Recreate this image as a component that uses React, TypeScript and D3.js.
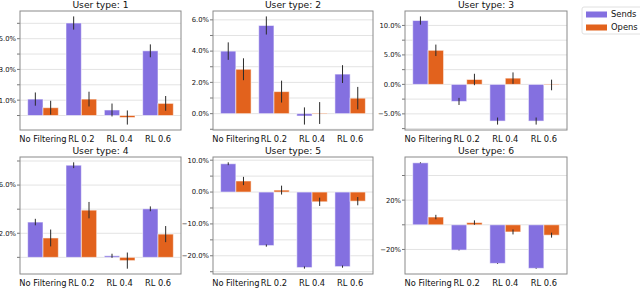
import React from 'react';
import * as d3 from 'd3';

// categories on the x axis of every panel
const categories = ['No Filtering', 'RL 0.2', 'RL 0.4', 'RL 0.6'];
const seriesNames = ['Sends', 'Opens'];
const userTypes = [1, 2, 3, 4, 5, 6];

// values in percent
const sends1 = [1.07, 6.02, 0.36, 4.21];
const sendsErr1 = [0.43, 0.43, 0.42, 0.42];
const opens1 = [0.51, 1.07, -0.13, 0.79];
const opensErr1 = [0.45, 0.48, 0.46, 0.48];

const sends2 = [4.0, 5.64, -0.15, 2.53];
const sendsErr2 = [0.56, 0.58, 0.55, 0.57];
const opens2 = [2.84, 1.41, 0.04, 0.99];
const opensErr2 = [0.7, 0.7, 0.7, 0.72];

const sends3 = [10.83, -2.89, -6.22, -6.22];
const sendsErr3 = [0.7, 0.6, 0.6, 0.6];
const opens3 = [5.78, 0.83, 1.06, -0.1];
const opensErr3 = [0.97, 0.97, 0.97, 0.9];

const sends4 = [2.93, 7.65, 0.13, 4.03];
const sendsErr4 = [0.27, 0.24, 0.17, 0.2];
const opens4 = [1.61, 3.92, -0.27, 1.93];
const opensErr4 = [0.7, 0.68, 0.67, 0.67];

const sends5 = [8.88, -16.8, -23.7, -23.4];
const sendsErr5 = [0.45, 0.35, 0.35, 0.35];
const opens5 = [3.47, 0.61, -3.06, -2.86];
const opensErr5 = [1.3, 1.4, 1.3, 1.3];

const sends6 = [50.3, -20.5, -31.3, -35.3];
const sendsErr6 = [0.4, 0.3, 0.3, 0.3];
const opens6 = [6.3, 1.8, -5.8, -8.4];
const opensErr6 = [1.8, 1.8, 2.0, 2.0];

// y grid step and which ticks carry a label, per panel
const gridSteps = [1, 1, 2.5, 2, 5, 20];
const labelTicks = [[1, 3, 5], [0, 2, 4, 6], [-5, 0, 5, 10], [2, 6], [-20, -10, 0, 10], [-20, 20]];
const labelDecimals = [1, 1, 1, 1, 1, 0];

const sendsAll = [sends1, sends2, sends3, sends4, sends5, sends6];
const sendsErrAll = [sendsErr1, sendsErr2, sendsErr3, sendsErr4, sendsErr5, sendsErr6];
const opensAll = [opens1, opens2, opens3, opens4, opens5, opens6];
const opensErrAll = [opensErr1, opensErr2, opensErr3, opensErr4, opensErr5, opensErr6];

const COLORS = ['#8470e0', '#e2621d'];
const FONT = '"DejaVu Sans", sans-serif';

const colX = [[20, 181], [213, 373], [405, 567]];
const rowY = [[11, 130], [157, 274]];

const fmt = (v: number, dec: number) => {
  const s = Math.abs(v).toFixed(dec) + '%';
  return v < 0 ? '\u2212' + s : s;
};

const Panel: React.FC<{ idx: number }> = ({ idx }) => {
  const [x0, x1] = colX[idx % 3];
  const [y0, y1] = rowY[Math.floor(idx / 3)];
  const series = [sendsAll[idx], opensAll[idx]];
  const errs = [sendsErrAll[idx], opensErrAll[idx]];

  // matplotlib-like 5% margin around the data + error bars
  const lo = d3.min(series.flatMap((s, k) => s.map((v, i) => Math.min(0, v - errs[k][i])))) || 0;
  const hi = d3.max(series.flatMap((s, k) => s.map((v, i) => Math.max(0, v + errs[k][i])))) || 0;
  const pad = (hi - lo) * 0.05;

  const x = d3.scaleLinear().domain([-0.6, categories.length - 0.4]).range([x0, x1]);
  const y = d3.scaleLinear().domain([lo - pad, hi + pad]).range([y1, y0]);
  const step = gridSteps[idx];
  const grid = d3.range(Math.ceil((lo - pad) / step) * step, hi + pad + 1e-9, step);
  const bw = 0.4;

  return (
    <g>
      <text x={(x0 + x1) / 2} y={y0 - 3} textAnchor="middle" fontSize={9.2} fontFamily={FONT} fill="#111">
        {`User type: ${userTypes[idx]}`}
      </text>
      {grid.map((g, i) => (
        <g key={i}>
          <line x1={x0} x2={x1} y1={y(g)} y2={y(g)} stroke="#e3e3e3" strokeWidth={1} />
          <line x1={x0 - 3} x2={x0} y1={y(g)} y2={y(g)} stroke="#555" strokeWidth={0.8} />
        </g>
      ))}
      {labelTicks[idx].map((t, i) => (
        <text key={i} x={x0 - 4} y={y(t)} dy="0.35em" textAnchor="end" fontSize={6.8} fontFamily={FONT} fill="#111">
          {fmt(t, labelDecimals[idx])}
        </text>
      ))}
      {series.map((s, k) =>
        s.map((v, i) => {
          const cx = i + (k === 0 ? -bw / 2 : bw / 2);
          return (
            <rect
              key={`${k}-${i}`}
              x={x(cx - bw / 2)}
              width={x(cx + bw / 2) - x(cx - bw / 2)}
              y={y(Math.max(0, v))}
              height={Math.abs(y(v) - y(0))}
              fill={COLORS[k]}
              stroke="rgba(255,255,255,0.55)"
              strokeWidth={1}
            />
          );
        })
      )}
      {series.map((s, k) =>
        s.map((v, i) => {
          const cx = x(i + (k === 0 ? -bw / 2 : bw / 2));
          return (
            <line key={`e${k}-${i}`} x1={cx} x2={cx} y1={y(v - errs[k][i])} y2={y(v + errs[k][i])} stroke="#2a2a2a" strokeWidth={1} />
          );
        })
      )}
      <rect x={x0} y={y0} width={x1 - x0} height={y1 - y0} fill="none" stroke="#8a8a8a" strokeWidth={1} />
      {categories.map((c, i) => (
        <text key={c} x={x(i)} y={y1 + 11.5} textAnchor="middle" fontSize={8.3} fontFamily={FONT} fill="#111">
          {c}
        </text>
      ))}
    </g>
  );
};

const Legend: React.FC = () => (
  <g>
    <rect x={582} y={7} width={70} height={27} rx={2} fill="#fff" stroke="#e0e0e0" strokeWidth={1} />
    {seriesNames.map((n, i) => (
      <g key={n}>
        <rect x={586} y={11.5 + i * 13} width={21} height={6} fill={COLORS[i]} />
        <text x={611} y={14.5 + i * 13} dy="0.35em" fontSize={8.4} fontFamily={FONT} fill="#111">
          {n}
        </text>
      </g>
    ))}
  </g>
);

const App: React.FC = () => (
  <svg width={640} height={288} style={{ position: 'absolute', left: 0, top: 0, background: '#fff' }}>
    {userTypes.map((_, i) => (
      <Panel key={i} idx={i} />
    ))}
    <Legend />
  </svg>
);

export default App;
